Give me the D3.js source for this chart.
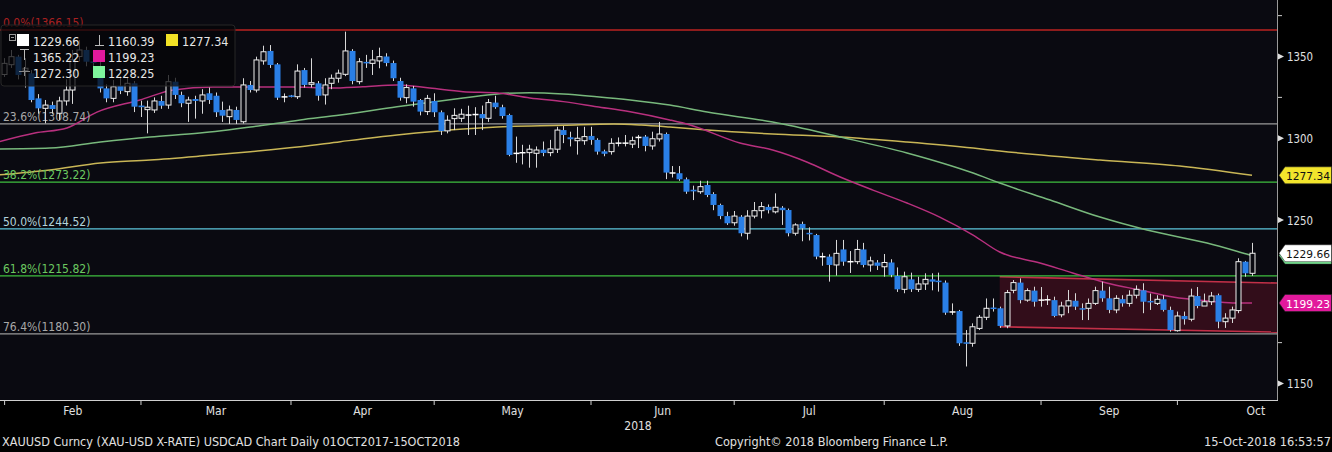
<!DOCTYPE html>
<html><head><meta charset="utf-8">
<script src="https://cdnjs.cloudflare.com/ajax/libs/d3/7.8.5/d3.min.js"></script>
<style>
html,body{margin:0;padding:0;background:#000;}
svg{display:block;}
text{font-family:'DejaVu Sans Condensed','DejaVu Sans',sans-serif;font-stretch:condensed;}
</style></head>
<body>
<svg id="chart" width="1332" height="452"></svg>
<script>
// ---------- DATA ----------
const open = [
1339,1345,1349.9,1341.5,1339.7,1324.4,1318.3,1320.3,1315.3,1322.8,
1329.5,1350,1354,1347,1344,1330.5,1324.4,1332,1328.5,1333.6,
1320,1317.5,1317.3,1322.8,1320.3,1334.6,1326.5,1321.4,1324,1322.8,
1327.5,1326,1317.3,1313.2,1317.3,1310.1,1332.6,1329.5,1347.3,1353.4,
1345.2,1325,1326,1325.4,1341.7,1333,1333.6,1326.5,1333.6,1336.7,
1339.1,1353.4,1334.6,1346.5,1345.8,1347.3,1350,1346,1335,1324.8,
1330.5,1323.4,1316.3,1322.8,1315.9,1304.5,1312,1312.2,1314,1314.4,
1314.8,1312.2,1321.8,1319,1314.2,1290.5,1290.8,1291.2,1290.8,1293,
1291.2,1293.3,1305,1300.6,1298.5,1298.5,1301.4,1299,1292,1291.8,
1296.8,1296.8,1296.4,1300.2,1301,1295.3,1299.6,1302.6,1278.5,1278.6,
1274.9,1268.5,1267.3,1271.4,1265.9,1259.2,1252.4,1248.3,1252,1241.9,
1252.4,1255.7,1258,1255,1257.5,1256.1,1241.9,1247.6,1242,1240.8,
1227.3,1227.6,1222.5,1232,1224.3,1224.5,1232,1222.5,1224,1221.4,
1224,1215.8,1207.6,1213.7,1207.6,1210.9,1213.7,1212.6,1211.7,1193.6,
1194.3,1174.9,1174.6,1183.7,1190.5,1196.2,1196,1185.2,1207,1211.7,
1201,1206.8,1200.8,1201,1201,1192,1197.4,1200.6,1195.8,1196,
1199,1206.8,1202.1,1195,1201.6,1199,1204,1207,1200.3,1199,
1201.5,1195,1182.3,1191.3,1189.3,1203.5,1197.4,1200,1204,1187.8,
1190,1194.6,1224.5,1217.4];
const high = [
1349,1354,1351,1349,1341.7,1327,1323.4,1322.4,1325.4,1336,
1354,1360,1356,1350,1347,1333,1335.6,1338,1337.7,1335,
1323,1323,1325,1326,1338.7,1337,1328.5,1325.4,1326,1330,
1331,1328,1322.4,1320,1319.3,1336.7,1335,1349.9,1356.6,1357,
1346,1327.4,1326.5,1345.2,1343,1348.9,1335,1336.7,1339,1342,
1365.2,1354.5,1349,1351,1354,1355.4,1352,1347.5,1337,1333,
1332,1324,1326.5,1327.5,1317,1314,1318.3,1318,1319.9,1319,
1320,1324,1326,1320.5,1315,1301,1296,1296,1295,1298,
1299,1307,1307.5,1304,1307,1307,1307,1300,1293,1300,
1300.5,1302,1301,1302,1302,1304,1310,1303.5,1283,1283,
1276,1271,1274,1274,1267,1260,1255,1255.5,1253,1256,
1261,1261,1259.5,1266.3,1258.5,1257,1248,1249,1245.5,1241.5,
1230,1229,1237.8,1237.8,1231,1237.8,1236,1227.6,1225.5,1229.2,
1226,1221,1218.4,1217.8,1215.3,1217.4,1217.4,1217.8,1213,1199,
1195,1182.7,1186.8,1191.9,1202,1202,1197,1207.2,1213.3,1214.3,
1208.2,1209.2,1209,1204,1203.1,1200,1207.2,1205.2,1199,1202,
1209.2,1212.3,1209.2,1204,1204,1207,1210,1211.3,1205,1204,
1204,1197,1194,1194,1208,1209,1205,1206,1205,1193,
1197,1226.6,1225,1236];
const low = [
1337.5,1343,1336,1331,1322,1315,1309.1,1315,1311.2,1320,
1321,1347,1344,1343,1328,1322,1322,1327,1326,1316,
1313,1303,1315.5,1318,1318,1324,1319,1310,1312,1315,
1321,1313,1310,1308.7,1308.7,1309,1328,1328,1345,1343,
1323.4,1322,1325,1324,1331,1331,1323,1320.6,1330,1334,
1338,1333,1333,1343,1338.7,1342.8,1344,1335,1323,1321.4,
1319.3,1314,1314.2,1313,1302,1303,1305,1310,1302,1302,
1305,1310,1318,1312,1289,1285,1284,1282,1282,1289,
1289,1291,1297,1295,1290,1296,1296,1290,1289,1290,
1295,1295,1294,1294,1292,1293,1298,1275,1276,1274,
1266,1262.2,1266,1264,1256,1250.5,1247,1246.5,1240,1238,
1251,1251,1254,1254,1247,1240,1240.5,1237,1237.5,1226,
1222,1212.3,1216,1222,1217.6,1223,1221,1218.4,1219.4,1215.3,
1215,1206,1205.2,1206,1206,1207.2,1207,1206.2,1192,1192,
1173,1160.4,1172.5,1182.7,1188.8,1194,1184,1183.8,1205.2,1199,
1200,1197,1197,1198,1190.5,1190.5,1193,1195,1188.8,1188.8,
1198,1200,1193,1193,1197,1197,1202,1193,1195,1198,
1194,1181.7,1181.7,1186,1188,1196,1198,1198,1183.8,1184,
1187,1193,1215.3,1215.8];
const close = [
1345.8,1349.9,1338.7,1342.8,1323.4,1318.3,1320.3,1317.9,1322.8,1329.5,
1348,1354,1346.8,1346,1330.5,1324.4,1331.5,1329,1333.6,1319.3,
1319,1319,1322.8,1319.9,1334.6,1326.5,1321.4,1323.4,1322.8,1326.5,
1323.4,1315.9,1313.8,1317.3,1311.2,1332.6,1329.5,1347.9,1352.9,1344.8,
1324.8,1325.6,1325.5,1341.1,1332.6,1334,1326,1332.6,1336.7,1339.8,
1353.4,1335,1346.8,1346,1347.9,1349.9,1346,1336.7,1324.8,1331,
1322.4,1316.3,1324.4,1315.9,1304.4,1311,1314,1314.7,1314.4,1314.6,
1312.2,1321.8,1319,1313.6,1289.8,1291,1291.5,1293.3,1292.8,1291,
1293.5,1305,1302,1299.4,1300,1301,1299,1291.8,1290.5,1296.9,
1297.2,1297.2,1298.5,1300.8,1295.3,1299.7,1302.6,1279,1279,1274.9,
1267.3,1267.5,1270.4,1265.3,1259.2,1252.4,1248,1252.4,1241.9,1252.4,
1255.7,1258.2,1256,1257.8,1256,1241.9,1247,1245,1241.4,1227.6,
1227.8,1222.5,1229.6,1224.5,1224.7,1232,1222.5,1225,1222,1224,
1216.4,1207.6,1215.3,1207.6,1210.9,1213.7,1212.3,1212.3,1193.3,1193.9,
1174.6,1174.6,1184.7,1190.5,1196,1195.8,1185.2,1205.6,1211.7,1201,
1206.8,1200,1201.2,1201.4,1191.3,1197.4,1200.6,1197,1195.4,1199,
1206.8,1202.1,1195,1202.1,1199,1204,1207.6,1200,1199.8,1201.5,
1195,1182.7,1191.3,1189.3,1203.5,1197.4,1200,1203.5,1187.8,1190,
1195,1224.5,1217.4,1229.66];

// moving averages (candle index, value)
const maShortIdx = [-1,4.5,9.2,13.6,19.9,24.8,30.6,36.5,42.3,47.8,52.6,57.6,62.4,67.3,72.3,77.1,82,86.9,91.8,97.6,100.6,107.9,112.7,117.7,122.6,127.4,132.4,137.2,142.1,146,151.9,156.7,161.7,166.5,171.4,176.4,180.2,183];
const maShortVal = [1297.6,1303.2,1306.3,1316,1323.4,1329.5,1331.3,1331.3,1331.3,1330.7,1331.5,1332.6,1330.7,1328.5,1327.7,1324.6,1322.4,1319.3,1316.2,1311.2,1308.1,1297.1,1292.8,1285.5,1276.3,1268.3,1260.4,1251.8,1240.8,1230.4,1223.7,1217.6,1211.5,1207.2,1202.9,1200.5,1199.3,1199.23];
const maMidIdx = [-1,6.7,14.1,21.4,28.7,36.1,43.4,49.3,57.6,67.3,72.3,77.1,82,86.9,91.8,97.6,103.1,112.7,122.6,132.4,142.1,146,153.4,160.7,167.6,176.4,182.7,183];
const maMidVal = [1293.4,1294,1297.7,1300.8,1303.2,1306.9,1311.2,1314.2,1319.3,1324.6,1327.1,1327.9,1327.1,1325.4,1323.4,1320.3,1316,1309.9,1300.8,1291,1278.7,1272.6,1262.2,1251.8,1243.9,1235.9,1228.6,1228.25];
const maLongIdx = [-1,6.7,14.1,21.4,28.7,36.1,43.4,49.3,57.6,67.3,72.3,82,89.4,93.4,97.6,103.1,112.7,122.6,132.4,142.1,146,160.7,172.4,183];
const maLongVal = [1277.5,1280.6,1284.9,1286.7,1289.1,1291.8,1294.8,1297.9,1302,1305.7,1306.9,1307.9,1308.7,1308.1,1306.9,1305,1302.6,1300.8,1297.7,1294,1292.2,1286.7,1283,1277.34];

// Fibonacci retracement levels
const fibPct = ["0.0%","23.6%","38.2%","50.0%","61.8%","76.4%"];
const fibVal = [1366.15,1308.74,1273.22,1244.52,1215.82,1180.30];

// channel (index, price) end points
const chanIdx = [146, 187];
const chanTop = [1215.3, 1211.4];
const chanBot = [1184.7, 1181.4];

// legend values
const lastPrice = 1229.66, hiPrice = 1365.22, avgPrice = 1272.30, loPrice = 1160.39;
const maShortLast = 1199.23, maMidLast = 1228.25, maLongLast = 1277.34;

const yTicksMajor = [1150,1250,1300,1350];
const yTicksMinor = [1175,1325,1375];

// ---------- LAYOUT ----------
const W = 1332, H = 452, PR = 1277, PB = 400;
const svg = d3.select("#chart");
const bg = "#0a0a11";

const axisDays = d3.timeDay.range(new Date(2018,0,31), new Date(2018,10,1)).filter(d => d.getDay() % 6 !== 0);
const x = d3.scaleLinear().domain([0, 183]).range([4.2, 1252]);
const y = d3.scaleLinear().domain([1150, 1350]).range([383.5, 56.5]);

svg.append("rect").attr("width", W).attr("height", H).attr("fill", "#000");
svg.append("rect").attr("x",0).attr("y",0).attr("width",PR).attr("height",PB).attr("fill",bg);

svg.append("defs").append("clipPath").attr("id","clip").append("rect").attr("x",0).attr("y",0).attr("width",PR).attr("height",PB);
const plot = svg.append("g").attr("clip-path","url(#clip)");

// channel
const chanPoly = [[x(chanIdx[0]), y(chanTop[0])],[x(chanIdx[1]), y(chanTop[1])],[x(chanIdx[1]), y(chanBot[1])],[x(chanIdx[0]), y(chanBot[0])]];
plot.append("polygon").attr("points", chanPoly.map(p=>p.join(",")).join(" ")).attr("fill","#5a1024").attr("fill-opacity",0.5);
[chanTop, chanBot].forEach(arr => {
  plot.append("line").attr("x1",x(chanIdx[0])).attr("x2",x(chanIdx[1])).attr("y1",y(arr[0])).attr("y2",y(arr[1]))
    .attr("stroke","#c23048").attr("stroke-width",1.6);
});

// fib lines
const fibLineCol = ["#8e1c1c","#9a9a9a","#3fbf3f","#5cc6dc","#3fbf3f","#9a9a9a"];
const fibTextCol = ["#a82020","#a8a8a8","#6cc860","#b4d4dc","#6cc860","#a8a8a8"];
fibVal.forEach((v,i) => {
  plot.append("line").attr("x1",0).attr("x2",PR).attr("y1",y(v)).attr("y2",y(v))
    .attr("stroke",fibLineCol[i]).attr("stroke-width", i===0?2:1.3);
});

// moving averages
const lineGen = d3.line().x(d=>x(d[0])).y(d=>y(d[1])).curve(d3.curveMonotoneX);
[[maLongIdx,maLongVal,"#c9b656"],[maMidIdx,maMidVal,"#78b87c"],[maShortIdx,maShortVal,"#b8307e"]].forEach(([ix,vv,c]) => {
  plot.append("path").datum(ix.map((v,k)=>[v,vv[k]])).attr("d",lineGen).attr("fill","none").attr("stroke",c).attr("stroke-width",1.5);
});

// fib labels
fibVal.forEach((v,i) => {
  plot.append("text").attr("x",3).attr("y",y(v)-3).attr("font-size",12).attr("fill",fibTextCol[i])
    .text(fibPct[i] + "(" + v.toFixed(2) + ")");
});

// candles
const blue = "#2a7fe6", wickCol = "#d8d8d8";
const bw = 5;
const cg = plot.append("g");
close.forEach((c,i) => {
  const o = open[i], cx = Math.round(x(i)) + 0.5;
  const up = c >= o;
  cg.append("line").attr("x1",cx).attr("x2",cx).attr("y1",y(high[i])).attr("y2",y(low[i]))
    .attr("stroke",wickCol).attr("stroke-width",1);
  const yt = y(Math.max(o,c)), yb = y(Math.min(o,c));
  const h = yb - yt;
  if (h < 1.2) {
    cg.append("line").attr("x1",cx-3).attr("x2",cx+3).attr("y1",(yt+yb)/2).attr("y2",(yt+yb)/2)
      .attr("stroke", up ? "#ffffff" : blue).attr("stroke-width",1.5);
  } else if (up) {
    cg.append("rect").attr("x",cx-2.5).attr("y",yt).attr("width",bw).attr("height",h)
      .attr("fill",bg).attr("stroke","#f0f0f0").attr("stroke-width",1);
  } else {
    cg.append("rect").attr("x",cx-3).attr("y",yt).attr("width",bw+1).attr("height",h)
      .attr("fill",blue);
  }
});

// legend
const lg = svg.append("g");
lg.append("rect").attr("x",1).attr("y",25).attr("width",234).attr("height",61).attr("rx",3)
  .attr("fill","rgba(6,6,8,0.74)").attr("stroke","#262626");
const fs = 12.5;
lg.append("rect").attr("x",9.5).attr("y",34.5).attr("width",6).attr("height",6).attr("fill","none").attr("stroke","#999");
lg.append("line").attr("x1",11).attr("x2",14).attr("y1",37.5).attr("y2",37.5).attr("stroke","#999");
lg.append("rect").attr("x",17).attr("y",34).attr("width",12).attr("height",12).attr("fill","#fff");
lg.append("text").attr("x",33).attr("y",46).attr("font-size",fs).attr("fill","#e6e6e6").text(lastPrice.toFixed(2));
lg.append("path").attr("d","M99.5,35 V45 M95,45.5 H104").attr("stroke","#bbb").attr("fill","none");
lg.append("text").attr("x",108).attr("y",46).attr("font-size",fs).attr("fill","#e6e6e6").text(loPrice.toFixed(2));
lg.append("rect").attr("x",166).attr("y",34).attr("width",12).attr("height",12).attr("fill","#f2e226");
lg.append("text").attr("x",182).attr("y",46).attr("font-size",fs).attr("fill","#e6e6e6").text(maLongLast.toFixed(2));
lg.append("path").attr("d","M20,49.5 H29 M24.5,50 V60").attr("stroke","#bbb").attr("fill","none");
lg.append("text").attr("x",33).attr("y",62).attr("font-size",fs).attr("fill","#e6e6e6").text(hiPrice.toFixed(2));
lg.append("rect").attr("x",93).attr("y",50).attr("width",12).attr("height",12).attr("fill","#e2199c");
lg.append("text").attr("x",108).attr("y",62).attr("font-size",fs).attr("fill","#e6e6e6").text(maShortLast.toFixed(2));
lg.append("path").attr("d","M19,71.5 H30 M24.5,67 V76").attr("stroke","#888").attr("fill","none");
lg.append("text").attr("x",33).attr("y",78).attr("font-size",fs).attr("fill","#e6e6e6").text(avgPrice.toFixed(2));
lg.append("rect").attr("x",93).attr("y",66).attr("width",12).attr("height",12).attr("fill","#7ef59c");
lg.append("text").attr("x",108).attr("y",78).attr("font-size",fs).attr("fill","#e6e6e6").text(maMidLast.toFixed(2));

// frame
svg.append("line").attr("x1",PR+0.5).attr("x2",PR+0.5).attr("y1",0).attr("y2",PB).attr("stroke","#9a9a9a");
svg.append("line").attr("x1",0).attr("x2",PR+1).attr("y1",PB+0.5).attr("y2",PB+0.5).attr("stroke","#cfcfcf");

// right axis
yTicksMajor.forEach(v => {
  const yy = y(v);
  svg.append("path").attr("d",`M${PR+1},${yy-3} L${PR+7},${yy} L${PR+1},${yy+3} Z`).attr("fill","#ddd");
  svg.append("text").attr("x",PR+10).attr("y",yy+4.5).attr("font-size",13).attr("fill","#e0e0e0")
    .attr("textLength",26).attr("lengthAdjust","spacingAndGlyphs").text(v);
});
yTicksMinor.forEach(v => {
  svg.append("line").attr("x1",PR+1).attr("x2",PR+5).attr("y1",y(v)).attr("y2",y(v)).attr("stroke","#ccc");
});

// value tags
function tag(v, fill, txtCol) {
  const yy = y(v);
  const g = svg.append("g");
  g.append("path").attr("d",`M${PR+2},${yy} L${PR+8},${yy-8.5} H${W-0.5} V${yy+8.5} H${PR+8} Z`).attr("fill",fill).attr("stroke","#222").attr("stroke-width",0.6);
  g.append("text").attr("x",PR+9).attr("y",yy+4.5).attr("font-size",11).attr("fill",txtCol)
    .attr("textLength",44).attr("lengthAdjust","spacingAndGlyphs").text(v.toFixed(2));
}
tag(maLongLast, "#f3e52c", "#111");
tag(maMidLast, "#7ef59c", "#111");
tag(lastPrice, "#ffffff", "#111");
tag(maShortLast, "#e2199c", "#fff");

// bottom axis (months)
const months = d3.groups(axisDays.map((d,i)=>[d,i]), p => p[0].getMonth());
const mNames = ["Jan","Feb","Mar","Apr","May","Jun","Jul","Aug","Sep","Oct","Nov","Dec"];
months.forEach(([m, arr]) => {
  const first = arr[0][1], last = arr[arr.length-1][1];
  const t0 = x(first - 0.5) - 3, t1 = x(last + 0.5) - 3;
  if (m > 0) svg.append("line").attr("x1",t0).attr("x2",t0).attr("y1",PB).attr("y2",PB+5).attr("stroke","#cfcfcf");
  if (m > 0) svg.append("text").attr("x",(t0+t1)/2).attr("y",415).attr("text-anchor","middle").attr("font-size",12).attr("fill","#e0e0e0").text(mNames[m]);
});
svg.append("text").attr("x",638).attr("y",430).attr("text-anchor","middle").attr("font-size",12).attr("fill","#e0e0e0").text("2018");

// footer
svg.append("text").attr("x",2).attr("y",446).attr("font-size",12).attr("fill","#e0e0e0")
  .attr("textLength",458).attr("lengthAdjust","spacingAndGlyphs")
  .text("XAUUSD Curncy (XAU-USD X-RATE) USDCAD Chart  Daily 01OCT2017-15OCT2018");
svg.append("text").attr("x",715).attr("y",446).attr("font-size",12).attr("fill","#e0e0e0")
  .attr("textLength",233).attr("lengthAdjust","spacingAndGlyphs")
  .text("Copyright© 2018 Bloomberg Finance L.P.");
svg.append("text").attr("x",1204).attr("y",446).attr("font-size",12).attr("fill","#e0e0e0")
  .attr("textLength",127).attr("lengthAdjust","spacingAndGlyphs")
  .text("15-Oct-2018 16:53:57");
</script>
</body></html>
